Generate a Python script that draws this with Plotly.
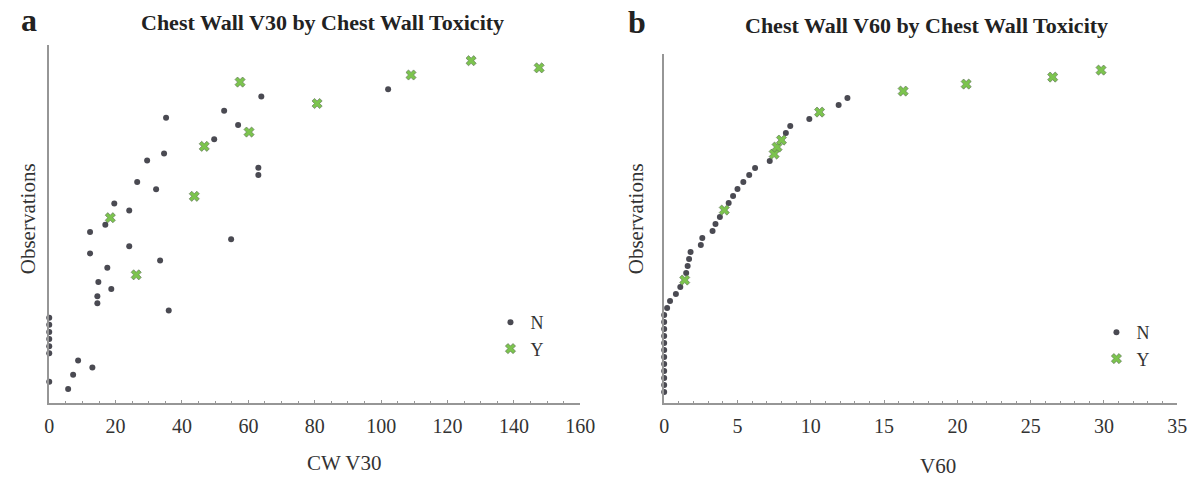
import plotly.graph_objects as go

# ---- Panel a: CW V30 (observation rank, value) ----
v30_obs_N = [1, 2, 3, 4, 5, 6, 7, 8, 9, 10, 11, 12, 13, 14, 15, 16, 18, 19, 20, 21, 22, 23, 24,
             26, 27, 29, 30, 31, 32, 33, 34, 36, 38, 39, 40, 42, 43]
v30_val_N = [5.7, 0, 7.2, 13, 8.7, 0, 0, 0, 0, 0, 0, 36, 14.5, 14.5, 18.7, 14.8, 17.5, 33.4, 12.3, 24.1,
             54.8, 12.3, 16.9, 24.1, 19.6, 32.2, 26.5, 63, 63, 29.5, 34.6, 49.7, 56.9, 35.2, 52.7, 63.9, 102.1]
v30_obs_Y = [17, 25, 28, 35, 37, 41, 44, 45, 46, 47]
v30_val_Y = [26.2, 18.4, 43.7, 46.7, 60.2, 80.7, 57.5, 109, 147.6, 127.1]

# ---- Panel b: V60 ----
v60_obs_N = [1, 2, 3, 4, 5, 6, 7, 8, 9, 10, 11, 12, 13, 14, 15, 16, 18, 19, 20, 21, 22, 23, 24,
             25, 26, 28, 29, 30, 31, 32, 33, 34, 38, 39, 40, 42, 43]
v60_val_N = [0, 0, 0, 0, 0, 0, 0, 0, 0, 0, 0, 0, 0.2, 0.4, 0.8, 1.1, 1.5, 1.6, 1.7, 1.8, 2.5, 2.6, 3.3,
             3.5, 3.8, 4.4, 4.7, 5.0, 5.4, 5.8, 6.2, 7.2, 8.3, 8.6, 9.9, 11.9, 12.5]
v60_obs_Y = [17, 27, 35, 36, 37, 41, 44, 45, 46, 47]
v60_val_Y = [1.4, 4.1, 7.5, 7.7, 8.0, 10.6, 16.3, 20.6, 26.5, 29.8]

W, H = 1199, 477
FONT = "Liberation Serif"
N_COLOR = "#4a4a52"
Y_COLOR = "#7cc44e"
AX_COLOR = "#969696"


def px(p):
    # horizontal pixel -> paper fraction (compensates for rendering offset)
    return (p - 3.7) / 0.985 / W


def py(p):
    return (H - p) / H


n_marker = dict(symbol="circle", size=6, color=N_COLOR)
y_marker = dict(symbol="x", size=9, color=Y_COLOR, line=dict(width=0.6, color="#5b6b55"))

fig = go.Figure()
fig.add_trace(go.Scatter(x=v30_val_N, y=v30_obs_N, mode="markers", name="N", marker=n_marker,
                         xaxis="x", yaxis="y", legend="legend", cliponaxis=False))
fig.add_trace(go.Scatter(x=v30_val_Y, y=v30_obs_Y, mode="markers", name="Y", marker=y_marker,
                         xaxis="x", yaxis="y", legend="legend", cliponaxis=False))
fig.add_trace(go.Scatter(x=v60_val_N, y=v60_obs_N, mode="markers", name="N", marker=n_marker,
                         xaxis="x2", yaxis="y2", legend="legend2", cliponaxis=False))
fig.add_trace(go.Scatter(x=v60_val_Y, y=v60_obs_Y, mode="markers", name="Y", marker=y_marker,
                         xaxis="x2", yaxis="y2", legend="legend2", cliponaxis=False))


def xaxis(domain, rng, dtick, minor):
    return dict(domain=domain, range=rng, dtick=dtick, tick0=0, showgrid=False, zeroline=False,
                showline=True, linecolor=AX_COLOR, linewidth=2, ticks="inside", ticklen=3,
                tickcolor=AX_COLOR, tickfont=dict(family=FONT, size=20, color="#333"),
                ticklabelstandoff=4,
                minor=dict(dtick=minor, ticks="inside", ticklen=2, tickcolor=AX_COLOR),
                fixedrange=True)


def yaxis(domain, rng, anchor):
    return dict(domain=domain, range=rng, anchor=anchor, showgrid=False, zeroline=False,
                showline=True, linecolor=AX_COLOR, linewidth=2, showticklabels=False, ticks="",
                fixedrange=True)


def ann(text, x, y, size, angle=0, color="#333"):
    return dict(text=text, x=px(x), y=py(y), xref="paper", yref="paper", showarrow=False,
                xanchor="center", yanchor="middle", textangle=angle,
                font=dict(family=FONT, size=size, color=color))


fig.update_layout(
    width=W, height=H, margin=dict(l=0, r=0, t=0, b=0),
    paper_bgcolor="white", plot_bgcolor="white",
    xaxis=dict(**xaxis([px(48), px(580)], [0, 160], 20, 5), anchor="y"),
    yaxis=yaxis([py(403), py(45)], [-0.96, 49.2], "x"),
    xaxis2=dict(**xaxis([px(664), px(1178)], [0, 35], 5, 1), anchor="y2"),
    yaxis2=yaxis([py(403), py(54)], [-0.57, 49.3], "x2"),
    legend=dict(x=px(490), y=py(304), xanchor="left", yanchor="top", bgcolor="rgba(0,0,0,0)",
                font=dict(family=FONT, size=18, color="#333"), tracegroupgap=0),
    legend2=dict(x=px(1097), y=py(314), xanchor="left", yanchor="top", bgcolor="rgba(0,0,0,0)",
                 font=dict(family=FONT, size=18, color="#333"), tracegroupgap=0),
    annotations=[
        ann("<b>Chest Wall V30 by Chest Wall Toxicity</b>", 322, 22, 22, color="#222"),
        ann("<b>Chest Wall V60 by Chest Wall Toxicity</b>", 927, 25, 22, color="#222"),
        ann("<b>a</b>", 28, 20, 32, color="#222"),
        ann("<b>b</b>", 637, 22, 32, color="#222"),
        ann("CW V30", 343, 463, 21),
        ann("V60", 938, 466, 21),
        ann("Observations", 27, 219, 21, angle=-90),
        ann("Observations", 636, 219, 21, angle=-90),
    ],
)

fig.write_html("out.html")
